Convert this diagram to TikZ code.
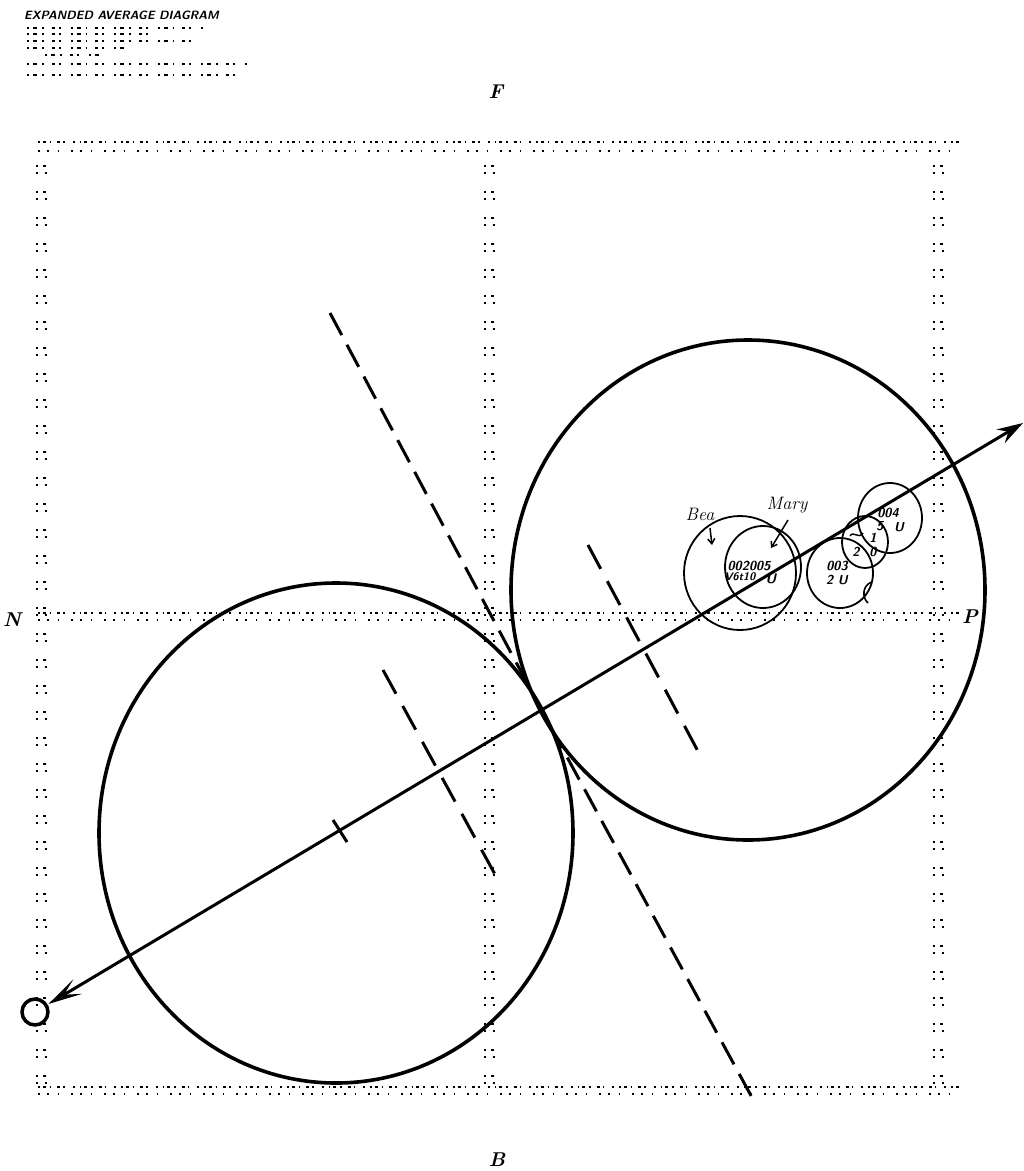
\documentclass[tikz,border=0pt]{standalone}
\usetikzlibrary{arrows.meta}
\begin{document}
\begin{tikzpicture}[x=1pt,y=-1pt,
  big/.style={line width=3.6pt},
  axisline/.style={line width=3pt},
  tdash/.style={line width=3pt, dash pattern=on 25pt off 11pt},
  sdash/.style={line width=3pt, dash pattern=on 27pt off 14pt},
  smcirc/.style={line width=1.8pt},
  rowdotsA/.style={line width=1.5pt, dash pattern=on 1.5pt off 3pt on 3pt off 4pt on 1.5pt off 6pt on 3pt off 3pt on 1.5pt off 8pt on 2pt off 5pt},
  rowdotsB/.style={line width=1.5pt, dash pattern=on 1.5pt off 7pt on 2pt off 9pt on 1.5pt off 12pt},
  coldotsA/.style={line width=1.6pt, dash pattern=on 2pt off 5pt on 3pt off 16pt},
  coldotsB/.style={line width=1.6pt, dash pattern=on 1.5pt off 7pt on 2pt off 16pt},
  hdr/.style={line width=1.4pt, dash pattern=on 2pt off 4pt on 4pt off 5pt on 1.5pt off 8pt on 3pt off 4pt on 2pt off 10pt},
  hand/.style={font=\fontsize{13}{13}\selectfont\sffamily\bfseries\slshape, inner sep=0pt},
  lbl/.style={font=\fontsize{20}{20}\selectfont\bfseries\itshape, inner sep=0pt},
  nmlbl/.style={font=\fontsize{18}{18}\selectfont\itshape, inner sep=0pt},
]
\useasboundingbox (0,0) rectangle (1024,1171);
\fill[white] (0,0) rectangle (1024,1171);

% header
\node[anchor=west, font=\fontsize{12}{12}\selectfont\sffamily\bfseries\slshape, inner sep=0pt] (title) at (24,15) {EXPANDED AVERAGE DIAGRAM};
\draw[hdr] (27,28) -- (205,28);
\draw[hdr] (27,34) -- (150,34);
\draw[hdr] (27,41) -- (200,41);
\draw[hdr] (27,48) -- (128,48);
\draw[hdr] (45,55) -- (100,55);
\draw[hdr] (27,64) -- (248,64);
\draw[hdr] (27,75) -- (235,75);

% frame rows
\foreach \ry in {142,613,1087} {\draw[rowdotsA] (38,\ry) -- (962,\ry);}
\foreach \ry in {151,620,1094} {\draw[rowdotsB] (38,\ry) -- (962,\ry);}
% frame columns
\foreach \cx in {36,484,933} {
  \foreach \cy in {166,192,...,1076} {
    \draw[coldotsA] (\cx,\cy) -- ++(15,0);
    \draw[coldotsB] (\cx,{\cy+7}) -- ++(15,0);
  }
}

% side labels
\node[lbl] (F) at (496,92) {F};
\node[lbl] (N) at (12,620) {N};
\node[lbl] (P) at (970,617) {P};
\node[lbl] (B) at (497,1160) {B};

% big circles
\draw[big] (336,833) ellipse [x radius=237, y radius=250];
\draw[big] (748,590) ellipse [x radius=237, y radius=250];

% tangent dashed line
\coordinate (tA) at (330,313);
\coordinate (T) at (542,711);
\coordinate (tB) at (755,1103);
\draw[tdash] (tA) -- (T) -- (tB);

% short dashed lines
\coordinate (lA) at (383,670);
\coordinate (lB) at (497,878);
\draw[sdash] (lA) -- (lB);
\coordinate (rA) at (588,545);
\coordinate (rB) at (700,755);
\draw[sdash] (rA) -- (rB);

% axis
\node[draw, circle, line width=3.5pt, minimum size=26pt, inner sep=0pt] (o) at (35,1012) {};
\coordinate (axR) at (1023,423);
\draw[axisline, shorten <=1pt, {Stealth[length=34pt,width=17pt,inset=16pt]}-{Stealth[length=26pt,width=16pt,inset=9pt]}] (o) -- (axR);
\coordinate (k1) at (333,820);
\coordinate (k2) at (347,842);
\draw[axisline] (k1) -- (k2);

% cluster circles
\draw[smcirc] (740,573) ellipse [x radius=56, y radius=57];
\draw[smcirc] (763,567) ellipse [x radius=38, y radius=41];
\draw[smcirc] (840,573) ellipse [x radius=33, y radius=35];
\draw[smcirc] (865,542) ellipse [x radius=23, y radius=26];
\draw[smcirc] (890,518) ellipse [x radius=32, y radius=35];

% cluster labels
\node[nmlbl] (bea) at (700,514) {Bea};
\coordinate (beaS) at (710,528);
\coordinate (beaT) at (712,545);
\draw[line width=1.5pt, -{Straight Barb[length=5pt,width=7pt]}] (beaS) -- (beaT);
\node[nmlbl] (mary) at (787,505) {Mary};
\coordinate (maryS) at (788,520);
\coordinate (maryT) at (771,548);
\draw[line width=1.5pt, -{Straight Barb[length=5pt,width=7pt]}] (maryS) -- (maryT);

\node[hand, font=\fontsize{13}{13}\selectfont\sffamily\bfseries\slshape] (n1) at (749,566) {002005};
\node[hand, font=\fontsize{11}{11}\selectfont\sffamily\bfseries\slshape] (n2) at (740,577) {V6t10};
\node[hand, font=\fontsize{14}{14}\selectfont\sffamily\bfseries\slshape] (n3) at (771,579) {U};
\node[hand] (n4) at (837,566) {003};
\node[hand] (n5) at (837,580) {2 U};
\node[hand] (n6) at (856,552) {2};
\node[hand] (n7) at (873,538) {1};
\node[hand] (n8) at (873,552) {0};
\node[hand] (n9) at (888,513) {004};
\node[hand] (n10) at (880,526) {5};
\node[hand] (n11) at (899,527) {U};
\draw[line width=1.4pt] (850,536) .. controls (854,530) and (858,540) .. (863,533);
\draw[line width=1.6pt] (872,582) .. controls (862,585) and (862,598) .. (868,603);
\end{tikzpicture}
\end{document}
